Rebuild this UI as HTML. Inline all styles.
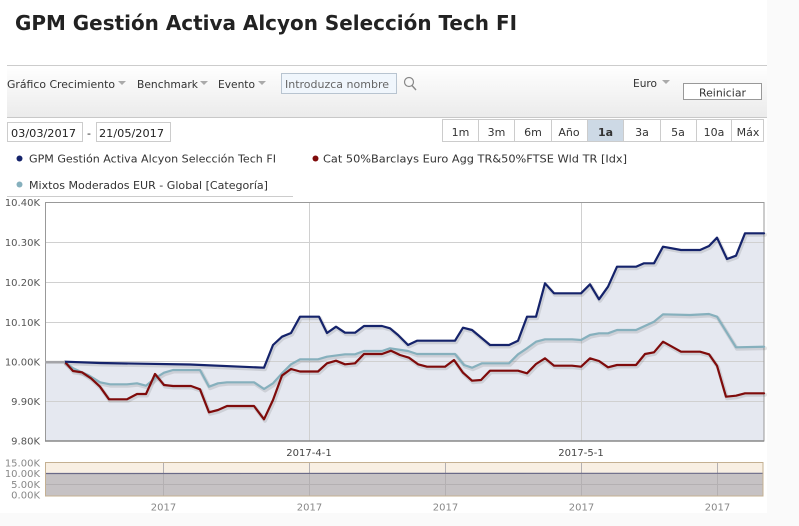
<!DOCTYPE html>
<html><head><meta charset="utf-8"><style>
html,body{margin:0;padding:0;background:#fff;}
svg{display:block;}
text{font-family:"DejaVu Sans","Liberation Sans",sans-serif;}
</style></head><body>
<svg width="799" height="526" viewBox="0 0 799 526" xmlns="http://www.w3.org/2000/svg">
<defs>
<linearGradient id="tb" x1="0" y1="0" x2="0" y2="1">
<stop offset="0" stop-color="#ffffff"/><stop offset="1" stop-color="#ebebeb"/>
</linearGradient>
</defs>
<rect x="0" y="0" width="799" height="526" fill="#ffffff"/>
<rect x="767" y="0" width="32" height="526" fill="#fafafa"/>
<rect x="0" y="513" width="799" height="13" fill="#fafafa"/>

<!-- Title -->
<text x="15" y="30" font-family="Liberation Sans, sans-serif" font-weight="bold" font-size="20" fill="#222" textLength="502" lengthAdjust="spacingAndGlyphs">GPM Gestión Activa Alcyon Selección Tech FI</text>

<!-- Toolbar -->
<rect x="7" y="65" width="760" height="52" fill="url(#tb)"/>
<line x1="7" y1="65.5" x2="767" y2="65.5" stroke="#cccccc"/>
<line x1="7" y1="117.5" x2="767" y2="117.5" stroke="#c8c8c8"/>
<g font-size="11" fill="#333">
<text x="7" y="88" textLength="108" lengthAdjust="spacingAndGlyphs">Gráfico Crecimiento</text>
<text x="137" y="88" textLength="61" lengthAdjust="spacingAndGlyphs">Benchmark</text>
<text x="218" y="88" textLength="37" lengthAdjust="spacingAndGlyphs">Evento</text>
<text x="633" y="87" textLength="24" lengthAdjust="spacingAndGlyphs">Euro</text>
</g>
<g fill="#aaaaaa">
<polygon points="118,81 126,81 122,85"/>
<polygon points="200,81 208,81 204,85"/>
<polygon points="258,81 266,81 262,85"/>
<polygon points="662,80 670,80 666,84"/>
</g>
<rect x="281.5" y="73.5" width="115" height="20" fill="#f0f6fc" stroke="#b8c4d0"/>
<text x="285" y="88" font-size="11" fill="#666" textLength="104" lengthAdjust="spacingAndGlyphs">Introduzca nombre</text>
<circle cx="409" cy="82" r="4.5" fill="none" stroke="#888" stroke-width="1.2"/>
<line x1="412" y1="85.5" x2="416" y2="90" stroke="#888" stroke-width="1.4"/>
<rect x="683.5" y="83.5" width="78" height="16" fill="#ffffff" stroke="#999"/>
<text x="699" y="96.5" font-size="11" fill="#333" textLength="47" lengthAdjust="spacingAndGlyphs">Reiniciar</text>

<!-- Date inputs -->
<rect x="7.5" y="122.5" width="75" height="19" fill="#fff" stroke="#cccccc"/>
<rect x="96.5" y="122.5" width="74" height="19" fill="#fff" stroke="#cccccc"/>
<g font-size="11" fill="#222">
<text x="11" y="137" textLength="65" lengthAdjust="spacingAndGlyphs">03/03/2017</text>
<text x="87" y="137">-</text>
<text x="99" y="137" textLength="65" lengthAdjust="spacingAndGlyphs">21/05/2017</text>
</g>

<!-- Range buttons -->
<rect x="442.5" y="119.5" width="321" height="22" fill="#fff" stroke="#cccccc"/>
<rect x="587.5" y="120" width="35.5" height="21" fill="#cdd9e5"/>
<g stroke="#cccccc">
<line x1="478.5" y1="120" x2="478.5" y2="141"/>
<line x1="514.5" y1="120" x2="514.5" y2="141"/>
<line x1="551.5" y1="120" x2="551.5" y2="141"/>
<line x1="587.5" y1="120" x2="587.5" y2="141"/>
<line x1="623.5" y1="120" x2="623.5" y2="141"/>
<line x1="660.5" y1="120" x2="660.5" y2="141"/>
<line x1="696.5" y1="120" x2="696.5" y2="141"/>
<line x1="731.5" y1="120" x2="731.5" y2="141"/>
</g>
<g font-size="11" fill="#333" text-anchor="middle">
<text x="460.5" y="136">1m</text>
<text x="496.5" y="136">3m</text>
<text x="533" y="136">6m</text>
<text x="569" y="136">Año</text>
<text x="605.5" y="136" font-weight="bold">1a</text>
<text x="642" y="136">3a</text>
<text x="678" y="136">5a</text>
<text x="714" y="136">10a</text>
<text x="748" y="136">Máx</text>
</g>

<!-- Legend -->
<circle cx="19.5" cy="158.5" r="3" fill="#15236b"/>
<text x="29" y="162.5" font-size="11" fill="#333" textLength="247" lengthAdjust="spacingAndGlyphs">GPM Gestión Activa Alcyon Selección Tech FI</text>
<circle cx="315.5" cy="158.5" r="3" fill="#7f0b0b"/>
<text x="323" y="162.5" font-size="11" fill="#333" textLength="304" lengthAdjust="spacingAndGlyphs">Cat 50%Barclays Euro Agg TR&amp;50%FTSE Wld TR [Idx]</text>
<circle cx="19.5" cy="184.5" r="3" fill="#86b0bd"/>
<text x="29" y="189" font-size="11" fill="#333" textLength="239" lengthAdjust="spacingAndGlyphs">Mixtos Moderados EUR - Global [Categoría]</text>
<line x1="7" y1="196.5" x2="293" y2="196.5" stroke="#cccccc"/>

<!-- Main plot -->
<polygon fill="#e5e8f0" points="45,441 45,361.7 65,361.7 100,363 190,364.5 264,367.7 273,345 282,336.7 291,333 300,316.7 319,316.7 327,333 336,326.7 345,332.7 355,332.7 364,326 382,326 390,328.3 398,335 408,345 417,340.7 455,340.7 463,327.7 472,330 490,345 509,345 518,340.7 527,316.7 536,316.7 545,283.3 554,293.3 581,293.3 590,284.3 599,299.3 608,286.7 617,266.7 636,266.7 644,263.3 654,263.3 663,246.7 681,250 700,250 709,246 717,237.7 727,259 736,255.7 745,233.3 764,233.3 764,441"/>
<g stroke="#d0d0d0" stroke-width="1">
<line x1="45" y1="242.5" x2="764" y2="242.5"/>
<line x1="45" y1="282.5" x2="764" y2="282.5"/>
<line x1="45" y1="322.5" x2="764" y2="322.5"/>
<line x1="45" y1="361.5" x2="764" y2="361.5"/>
<line x1="45" y1="401.5" x2="764" y2="401.5"/>
<line x1="309.5" y1="202" x2="309.5" y2="441"/>
<line x1="581.5" y1="202" x2="581.5" y2="441"/>
</g>
<rect x="45.5" y="202.5" width="718.5" height="238.5" fill="none" stroke="#999999"/>
<line x1="45" y1="441" x2="764" y2="441" stroke="#888" stroke-width="1.5"/>

<g fill="none" stroke-linejoin="round" stroke-linecap="round">
<!-- shadows -->
<g stroke="rgba(0,0,0,0.10)" stroke-width="4" transform="translate(1,1.5)">
<polyline points="65,362.5 73,368.3 88,375 100,382.3 110,384.3 127,384.3 137,383.3 146,385.7 155,378.3 164,372.7 173,370 200,370 209,386.7 218,383.3 227,382.3 254,382.3 264,389 273,383.3 282,373.3 291,364.3 300,359.3 318,359.3 327,356.7 345,354.3 355,354.3 364,351 382,351 390,348.3 408,351 417,354 455,354 464,365 472,367.7 482,363.3 509,363.3 518,354.3 527,348.3 536,341.7 545,339.3 572,339.3 581,340 590,335 599,333.3 608,333.3 617,330 636,330 654,321.7 663,314.3 690,315 709,314 717,316.7 736,347.3 764,346.7"/>
<polyline points="65,362 73,371 82,372.3 91,378.3 100,386.7 109,399.3 127,399.3 137,394 146,394 155,374 164,385 173,386 191,386 200,389.3 209,412.3 218,410 227,406 254,406 264,419.3 273,400 282,375.5 291,369 300,371.5 318,371.5 327,363.3 336,360.7 345,364.3 355,363.3 364,354 382,354 391,350.7 400,355 409,357.7 418,364.3 427,366.7 445,366.7 454,360 463,372.7 472,380.7 481,380 490,370.7 518,370.7 527,373.3 536,364 545,358.3 554,365.7 572,365.7 581,366.7 590,358.3 599,361 608,367.3 617,365 636,365 645,354 654,352.3 663,341.7 672,346.7 681,351.7 700,351.7 709,354.3 717,365.7 726,396.7 736,395.7 745,393.3 764,393.3"/>
<polyline points="65,361.7 100,363 190,364.5 264,367.7 273,345 282,336.7 291,333 300,316.7 319,316.7 327,333 336,326.7 345,332.7 355,332.7 364,326 382,326 390,328.3 398,335 408,345 417,340.7 455,340.7 463,327.7 472,330 490,345 509,345 518,340.7 527,316.7 536,316.7 545,283.3 554,293.3 581,293.3 590,284.3 599,299.3 608,286.7 617,266.7 636,266.7 644,263.3 654,263.3 663,246.7 681,250 700,250 709,246 717,237.7 727,259 736,255.7 745,233.3 764,233.3"/>
</g>
<polyline stroke="#86b0bd" stroke-width="2.2" points="65,362.5 73,368.3 88,375 100,382.3 110,384.3 127,384.3 137,383.3 146,385.7 155,378.3 164,372.7 173,370 200,370 209,386.7 218,383.3 227,382.3 254,382.3 264,389 273,383.3 282,373.3 291,364.3 300,359.3 318,359.3 327,356.7 345,354.3 355,354.3 364,351 382,351 390,348.3 408,351 417,354 455,354 464,365 472,367.7 482,363.3 509,363.3 518,354.3 527,348.3 536,341.7 545,339.3 572,339.3 581,340 590,335 599,333.3 608,333.3 617,330 636,330 654,321.7 663,314.3 690,315 709,314 717,316.7 736,347.3 764,346.7"/>
<polyline stroke="#7f0b0b" stroke-width="2.2" points="65,362 73,371 82,372.3 91,378.3 100,386.7 109,399.3 127,399.3 137,394 146,394 155,374 164,385 173,386 191,386 200,389.3 209,412.3 218,410 227,406 254,406 264,419.3 273,400 282,375.5 291,369 300,371.5 318,371.5 327,363.3 336,360.7 345,364.3 355,363.3 364,354 382,354 391,350.7 400,355 409,357.7 418,364.3 427,366.7 445,366.7 454,360 463,372.7 472,380.7 481,380 490,370.7 518,370.7 527,373.3 536,364 545,358.3 554,365.7 572,365.7 581,366.7 590,358.3 599,361 608,367.3 617,365 636,365 645,354 654,352.3 663,341.7 672,346.7 681,351.7 700,351.7 709,354.3 717,365.7 726,396.7 736,395.7 745,393.3 764,393.3"/>
<polyline stroke="#15236b" stroke-width="2.2" points="65,361.7 100,363 190,364.5 264,367.7 273,345 282,336.7 291,333 300,316.7 319,316.7 327,333 336,326.7 345,332.7 355,332.7 364,326 382,326 390,328.3 398,335 408,345 417,340.7 455,340.7 463,327.7 472,330 490,345 509,345 518,340.7 527,316.7 536,316.7 545,283.3 554,293.3 581,293.3 590,284.3 599,299.3 608,286.7 617,266.7 636,266.7 644,263.3 654,263.3 663,246.7 681,250 700,250 709,246 717,237.7 727,259 736,255.7 745,233.3 764,233.3"/>
<line x1="45" y1="362.2" x2="65" y2="362.2" stroke="#a4a4a8" stroke-width="2.6" stroke-linecap="butt"/>
</g>

<!-- Y labels -->
<g font-size="10" fill="#555" text-anchor="end">
<text x="40" y="206">10.40K</text>
<text x="40" y="246">10.30K</text>
<text x="40" y="286">10.20K</text>
<text x="40" y="326">10.10K</text>
<text x="40" y="365.5">10.00K</text>
<text x="40" y="405">9.90K</text>
<text x="40" y="444.5">9.80K</text>
</g>
<g font-size="10" fill="#444" text-anchor="middle">
<text x="309" y="456">2017-4-1</text>
<text x="581" y="456">2017-5-1</text>
</g>

<!-- Navigator -->
<rect x="45" y="462" width="718" height="11.5" fill="#f8efe3"/>
<rect x="45" y="473.5" width="718" height="22.5" fill="#c6c2c4"/>
<g stroke="#b4b0b2" stroke-width="1">
<line x1="45" y1="484.5" x2="763" y2="484.5"/>
<line x1="163.5" y1="462" x2="163.5" y2="496"/>
<line x1="309.5" y1="462" x2="309.5" y2="496"/>
<line x1="445.5" y1="462" x2="445.5" y2="496"/>
<line x1="581.5" y1="462" x2="581.5" y2="496"/>
<line x1="717.5" y1="462" x2="717.5" y2="496"/>
</g>
<line x1="45" y1="473.5" x2="763" y2="473.3" stroke="#6a6a88" stroke-width="1.2"/>
<rect x="45.5" y="462.5" width="717.5" height="33.5" fill="none" stroke="#c4b092"/>
<g font-size="10" fill="#888" text-anchor="end">
<text x="40" y="466.5">15.00K</text>
<text x="40" y="477">10.00K</text>
<text x="40" y="488">5.00K</text>
<text x="40" y="498.5">0.00K</text>
</g>
<g font-size="10" fill="#888" text-anchor="middle">
<text x="163.5" y="510.5">2017</text>
<text x="309.5" y="510.5">2017</text>
<text x="445.5" y="510.5">2017</text>
<text x="581.5" y="510.5">2017</text>
<text x="717.5" y="510.5">2017</text>
</g>
</svg>
</body></html>
